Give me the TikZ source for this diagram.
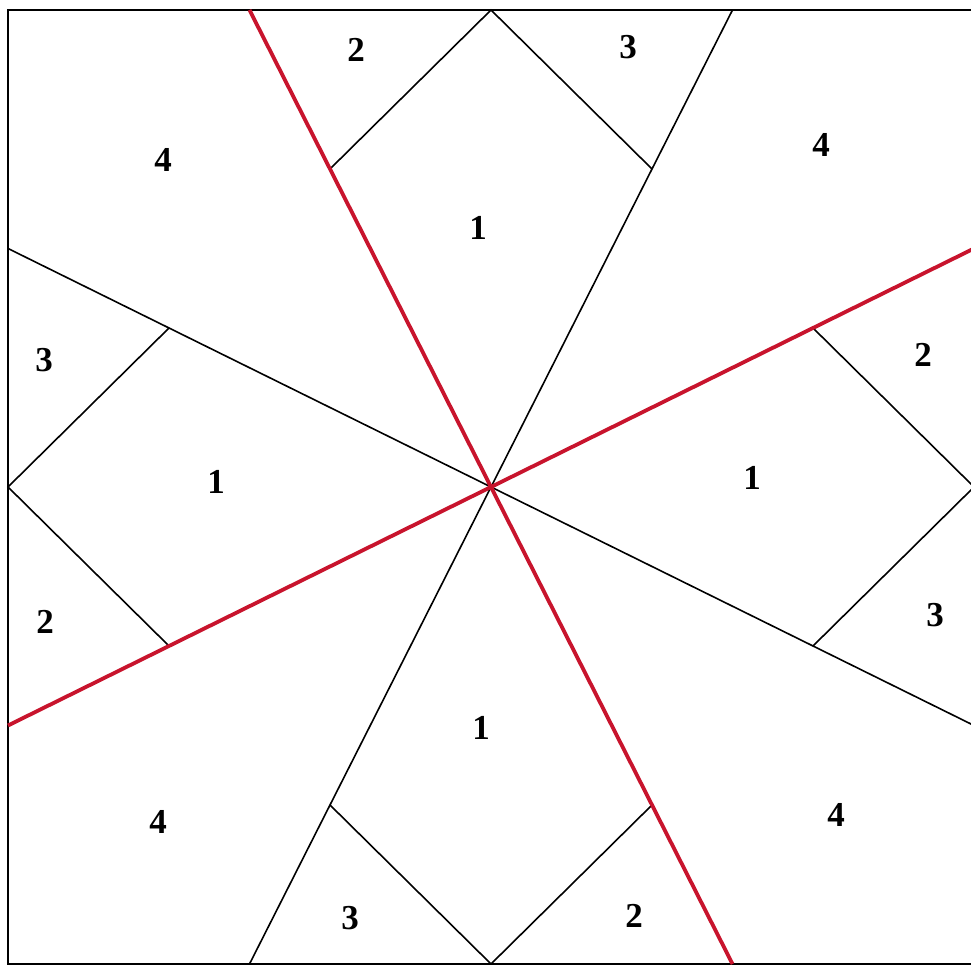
\documentclass[tikz,border=0pt]{standalone}
\usepackage{fontspec}
\setmainfont{Liberation Serif}
\definecolor{cutred}{RGB}{200,20,45}
\begin{document}
\begin{tikzpicture}[x=1pt,y=1pt,
  seam/.style={draw=black,line width=1.6pt},
  cutline/.style={draw=cutred,line width=3.8pt},
  lbl/.style={font=\fontsize{35}{35}\selectfont\bfseries,inner sep=0pt}]
\useasboundingbox (0,0) rectangle (971,965);
\clip (0,0) rectangle (971,965);
\fill[white] (0,0) rectangle (971,965);
\begin{scope}[shift={(491,478)},x=483pt,y=477pt]
  \coordinate (O) at (0,0);
  \coordinate (TL) at (-1,1);
  \coordinate (TR) at (1,1);
  \coordinate (BR) at (1,-1);
  \coordinate (BL) at (-1,-1);
  % top
  \coordinate (T) at (0,1);
  \coordinate (tL) at (-0.5,1);
  \coordinate (tR) at (0.5,1);
  \coordinate (kTL) at (-1/3,2/3);
  \coordinate (kTR) at (1/3,2/3);
  % right
  \coordinate (R) at (1,0);
  \coordinate (rT) at (1,0.5);
  \coordinate (rB) at (1,-0.5);
  \coordinate (kRT) at (2/3,1/3);
  \coordinate (kRB) at (2/3,-1/3);
  % bottom
  \coordinate (B) at (0,-1);
  \coordinate (bR) at (0.5,-1);
  \coordinate (bL) at (-0.5,-1);
  \coordinate (kBR) at (1/3,-2/3);
  \coordinate (kBL) at (-1/3,-2/3);
  % left
  \coordinate (L) at (-1,0);
  \coordinate (lT) at (-1,0.5);
  \coordinate (lB) at (-1,-0.5);
  \coordinate (kLT) at (-2/3,1/3);
  \coordinate (kLB) at (-2/3,-1/3);
  % frame
  \draw[seam] (TL) -- (TR) -- (BR) -- (BL) -- cycle;
  % kite edges
  \draw[seam] (kTL) -- (T) -- (kTR);
  \draw[seam] (kRT) -- (R) -- (kRB);
  \draw[seam] (kBR) -- (B) -- (kBL);
  \draw[seam] (kLB) -- (L) -- (kLT);
  % black diagonals
  \draw[seam] (tR) -- (O) -- (bL);
  \draw[seam] (lT) -- (O) -- (rB);
  % red cut lines
  \draw[cutline] (tL) -- (O) -- (bR);
  \draw[cutline] (lB) -- (O) -- (rT);
\end{scope}
% labels (pixel positions, y measured from bottom)
\node[lbl] (a2) at (356,915) {2};
\node[lbl] (a3) at (628,918) {3};
\node[lbl] (a1) at (478,737) {1};
\node[lbl] (a4l) at (163,805) {4};
\node[lbl] (a4r) at (821,820) {4};
\node[lbl] (l3) at (44,605) {3};
\node[lbl] (l1) at (216,483) {1};
\node[lbl] (l2) at (45,343) {2};
\node[lbl] (r2) at (923,610) {2};
\node[lbl] (r1) at (752,487) {1};
\node[lbl] (r3) at (935,350) {3};
\node[lbl] (b1) at (481,237) {1};
\node[lbl] (b4l) at (158,143) {4};
\node[lbl] (b4r) at (836,150) {4};
\node[lbl] (b3) at (350,47) {3};
\node[lbl] (b2) at (634,49) {2};
\end{tikzpicture}
\end{document}
